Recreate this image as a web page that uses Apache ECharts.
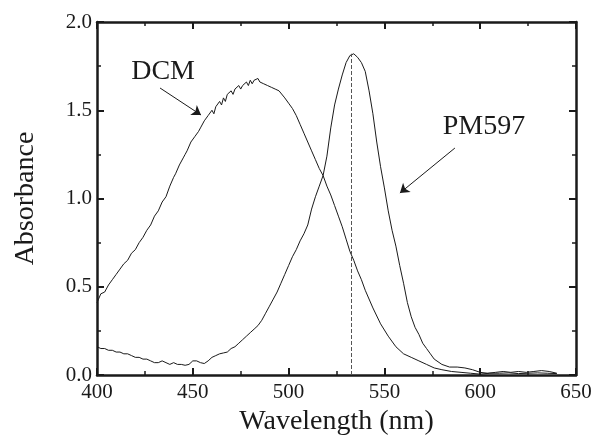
<!DOCTYPE html>
<html><head><meta charset="utf-8">
<script src="https://cdn.jsdelivr.net/npm/echarts@6/dist/echarts.min.js"></script>
<style>html,body{margin:0;padding:0;background:#fff}#c{width:595px;height:443px}</style>
</head><body><div id="c"></div>
<script>
// ---- data ----
const xTicks = [400, 450, 500, 550, 600, 650];
const yTicks = [0.0, 0.5, 1.0, 1.5, 2.0];
const dcmWl = [400,402,404,406,408,410,412,414,416,418,420,422,424,426,428,430,432,434,436,438,
  440,441,442,443,444,445,446,447,448,449,450,451,452,453,454,455,456,457,458,459,460,461,462,463,464,465,466,467,468,469,
  470,471,472,473,474,475,476,477,478,479,480,481,482,483,484,485,486,487,488,489,490,491,492,493,494,495,496,498,500,
  502,504,506,508,510,512,514,516,518,520,522,524,526,528,530,532,534,536,538,540,544,548,552,556,560,564,568,572,576,580,585,590,595,600,605,610,615,620,625,630,635,640];
const dcmAbs = [0.41,0.46,0.47,0.51,0.54,0.57,0.60,0.63,0.65,0.69,0.71,0.75,0.78,0.82,0.85,0.90,0.93,0.98,1.01,1.07,
  1.12,1.14,1.15,1.19,1.20,1.23,1.25,1.27,1.28,1.32,1.33,1.35,1.34,1.38,1.40,1.41,1.44,1.43,1.47,1.46,1.50,1.48,1.52,1.51,1.55,1.53,1.57,1.55,1.59,1.58,
  1.61,1.59,1.62,1.61,1.64,1.62,1.64,1.63,1.66,1.64,1.67,1.65,1.67,1.66,1.68,1.66,1.67,1.65,1.66,1.64,1.65,1.63,1.63,1.62,1.62,1.61,1.60,1.57,1.54,
  1.51,1.47,1.42,1.37,1.32,1.27,1.22,1.17,1.13,1.07,1.02,0.96,0.90,0.84,0.77,0.70,0.65,0.59,0.54,0.48,0.38,0.29,0.22,0.16,0.12,0.10,0.08,0.06,0.04,0.03,0.02,0.015,0.01,0.005,0.01,0.01,0.012,0.008,0.01,0.012,0.01,0.008];
const pmWl = [400,402,404,406,408,410,412,414,416,418,420,422,424,426,428,430,432,434,436,438,440,442,444,446,448,450,452,454,456,458,460,462,464,466,468,470,472,474,476,478,480,482,484,486,488,490,492,494,496,498,500,
  502,504,506,508,510,512,514,516,518,520,522,524,526,528,530,532,533,534,536,538,540,542,544,546,548,550,552,554,556,558,560,562,564,566,568,570,572,574,576,580,584,588,592,596,600,604,608,612,616,620,624,628,632,636,640];
const pmAbs = [0.16,0.15,0.15,0.14,0.14,0.13,0.13,0.12,0.12,0.11,0.10,0.10,0.09,0.09,0.08,0.07,0.07,0.08,0.07,0.06,0.07,0.06,0.06,0.055,0.06,0.08,0.08,0.07,0.065,0.08,0.10,0.11,0.12,0.125,0.13,0.15,0.16,0.18,0.20,0.22,0.24,0.26,0.28,0.31,0.35,0.39,0.43,0.47,0.52,0.57,0.62,
  0.67,0.71,0.76,0.80,0.85,0.94,1.01,1.07,1.13,1.24,1.40,1.53,1.62,1.70,1.77,1.81,1.82,1.82,1.80,1.77,1.72,1.61,1.48,1.32,1.18,1.06,0.93,0.82,0.73,0.62,0.52,0.41,0.33,0.27,0.23,0.18,0.15,0.12,0.09,0.06,0.045,0.045,0.04,0.03,0.015,0.01,0.015,0.02,0.015,0.02,0.015,0.02,0.025,0.02,0.01];
const peakWl = 532.5, peakAbs = 1.82;
const labels = [
  {text: 'DCM', at: [434.5, 1.717], arrowFrom: [432.9, 1.626], arrowTo: [454.3, 1.473]},
  {text: 'PM597', at: [602, 1.405], arrowFrom: [586.8, 1.286], arrowTo: [558.1, 1.031]}
];

const pairs = (xs, ys) => xs.map((x, i) => [x, ys[i]]);
const FONT = '"Liberation Serif", "Times New Roman", serif';
const INK = '#1a1a1a';

const axisCommon = {
  axisLine: {show: true, onZero: false, lineStyle: {color: INK, width: 2.5}},
  axisTick: {show: true, inside: true, length: 7, lineStyle: {color: INK, width: 2}},
  minorTick: {show: true, splitNumber: 2, length: 4, lineStyle: {color: INK, width: 1.5}},
  splitLine: {show: false}
};

const chart = echarts.init(document.getElementById('c'), null, {renderer: 'canvas'});
chart.setOption({
  animation: false,
  backgroundColor: '#fff',
  grid: {left: 97, right: 19, top: 22, bottom: 68, containLabel: false},
  xAxis: [
    Object.assign({type: 'value', min: xTicks[0], max: xTicks[xTicks.length-1], interval: 50, position: 'bottom',
      name: 'Wavelength (nm)', nameLocation: 'middle', nameGap: 32,
      nameTextStyle: {fontFamily: FONT, fontSize: 28, color: INK},
      axisLabel: {fontFamily: FONT, fontSize: 21, color: INK, margin: 7}}, axisCommon),
    Object.assign({type: 'value', min: xTicks[0], max: xTicks[xTicks.length-1], interval: 50, position: 'top',
      axisLabel: {show: false}}, axisCommon)
  ],
  yAxis: [
    Object.assign({type: 'value', min: yTicks[0], max: yTicks[yTicks.length-1], interval: 0.5, position: 'left',
      name: 'Absorbance', nameLocation: 'middle', nameGap: 57, nameRotate: 90,
      nameTextStyle: {fontFamily: FONT, fontSize: 28, color: INK},
      axisLabel: {fontFamily: FONT, fontSize: 21, color: INK, margin: 5, formatter: v => v.toFixed(1)}}, axisCommon),
    Object.assign({type: 'value', min: yTicks[0], max: yTicks[yTicks.length-1], interval: 0.5, position: 'right',
      axisLabel: {show: false}}, axisCommon)
  ],
  series: [
    {type: 'line', name: 'DCM', data: pairs(dcmWl, dcmAbs), showSymbol: false, symbol: 'none',
      lineStyle: {color: INK, width: 1}, z: 3,
      markLine: {silent: true, symbol: ['none', 'arrow'], symbolSize: 9, label: {show: false},
        lineStyle: {color: INK, width: 1, type: 'solid'},
        data: [[{coord: labels[0].arrowFrom}, {coord: labels[0].arrowTo}]]},
      markPoint: {silent: true, symbol: 'circle', symbolSize: 0,
        label: {show: true, position: 'inside', formatter: labels[0].text, fontFamily: FONT, fontSize: 28, color: INK},
        data: [{coord: labels[0].at}]}
    },
    {type: 'line', name: 'PM597', data: pairs(pmWl, pmAbs), showSymbol: false, symbol: 'none',
      lineStyle: {color: INK, width: 1}, z: 3,
      markLine: {silent: true, symbol: ['none', 'arrow'], symbolSize: 9, label: {show: false},
        lineStyle: {color: INK, width: 1, type: 'solid'},
        data: [
          [{coord: labels[1].arrowFrom}, {coord: labels[1].arrowTo}],
          [{coord: [peakWl, 0], symbol: 'none', lineStyle: {type: 'dashed', color: '#555', width: 1}},
           {coord: [peakWl, peakAbs], symbol: 'none', lineStyle: {type: 'dashed', color: '#555', width: 1}}]
        ]},
      markPoint: {silent: true, symbol: 'circle', symbolSize: 0,
        label: {show: true, position: 'inside', formatter: labels[1].text, fontFamily: FONT, fontSize: 28, color: INK},
        data: [{coord: labels[1].at}]}
    }
  ]
});
</script>
</body></html>
